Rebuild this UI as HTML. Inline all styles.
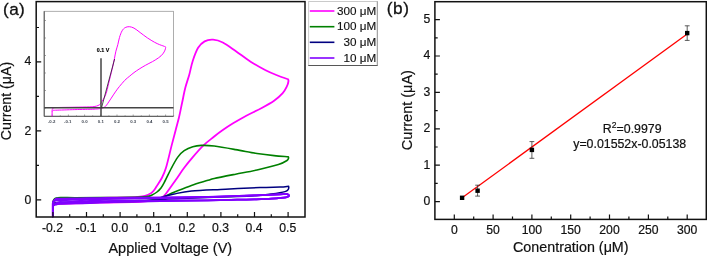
<!DOCTYPE html>
<html lang="en"><head><meta charset="utf-8"><title>Figure</title>
<style>html,body{margin:0;padding:0;background:#fff}body{width:707px;height:257px;overflow:hidden}svg{display:block;will-change:transform}</style></head>
<body>
<svg width="707" height="257" viewBox="0 0 707 257">
<rect width="707" height="257" fill="#fff"/>
<g fill="none" stroke-linejoin="round" stroke-linecap="round">
<path d="M52.8 216.5 L52.8 203.8 L52.8 203.8 C53.0 203.3 53.2 201.4 53.8 200.6 C54.4 199.8 54.6 199.3 56.5 199.0 C58.4 198.7 57.8 198.7 65.0 198.5 C72.2 198.3 89.2 198.1 100.0 197.9 C110.8 197.7 123.7 197.5 130.0 197.3 C136.3 197.1 135.5 197.1 138.0 196.8 C140.5 196.6 142.8 196.4 145.0 195.8 C147.2 195.2 149.5 194.1 151.0 193.2 C152.5 192.3 153.1 191.4 154.0 190.3 C154.9 189.2 155.2 188.6 156.5 186.5 C157.8 184.4 160.2 181.1 161.8 178.0 C163.4 174.9 164.4 173.1 166.0 167.8 C167.6 162.5 169.8 152.7 171.4 146.4 C173.0 140.1 174.4 134.8 175.7 130.0 C176.9 125.2 177.8 122.3 178.9 117.8 C180.0 113.3 181.0 107.8 182.1 102.8 C183.2 97.8 184.1 92.4 185.3 87.8 C186.5 83.2 187.9 79.5 189.2 75.0 C190.4 70.5 191.3 65.2 192.8 60.7 C194.3 56.2 196.1 51.0 198.1 47.8 C200.1 44.6 202.1 42.8 204.6 41.4 C207.1 40.0 210.1 39.5 213.1 39.7 C216.1 39.9 219.1 40.6 222.8 42.5 C226.6 44.4 231.0 47.8 235.6 51.0 C240.2 54.2 245.6 58.5 250.6 61.7 C255.6 64.9 261.3 68.1 265.6 70.3 C269.9 72.5 272.5 73.5 276.3 75.0 C280.1 76.5 286.2 78.6 288.2 79.3 L288.5 81.0 C288.3 81.8 288.2 83.7 287.2 85.7 C286.2 87.7 284.9 90.7 282.7 93.2 C280.5 95.7 277.7 98.2 274.1 100.7 C270.5 103.2 265.9 105.7 261.3 108.2 C256.7 110.7 250.9 113.2 246.3 115.7 C241.7 118.2 237.4 120.7 233.5 123.1 C229.6 125.5 226.0 127.8 222.8 130.0 C219.6 132.2 217.4 133.9 214.2 136.5 C211.0 139.1 207.1 141.9 203.5 145.3 C199.9 148.7 196.0 153.3 192.8 157.1 C189.6 160.8 187.0 164.0 184.2 167.8 C181.3 171.6 178.8 175.6 175.7 180.0 C172.6 184.4 168.1 191.0 165.7 194.0 C163.2 197.0 162.8 196.9 161.0 198.0 C159.2 199.1 158.5 199.7 155.0 200.3 C151.5 200.9 149.2 201.4 140.0 201.8 C130.8 202.2 113.3 202.3 100.0 202.7 C86.7 203.0 67.5 203.6 60.0 203.9 C52.5 204.2 56.1 204.0 55.0 204.3 C53.9 204.7 53.5 205.7 53.2 206.0" stroke="#ff00ff" stroke-width="1.8"/>
<path d="M52.8 216.5 L52.8 203.5 L52.8 203.5 C52.9 202.9 53.1 200.8 53.7 199.9 C54.3 199.0 55.0 198.5 56.2 198.1 C57.4 197.7 57.9 197.7 61.0 197.6 C64.1 197.5 68.5 197.7 75.0 197.7 C81.5 197.7 90.8 197.7 100.0 197.6 C109.2 197.5 122.2 197.5 130.0 197.3 C137.8 197.1 143.1 196.9 146.8 196.5 C150.5 196.1 150.3 195.8 152.0 195.0 C153.7 194.2 155.5 193.2 157.0 192.0 C158.5 190.8 159.7 189.8 161.0 188.0 C162.3 186.2 163.3 184.2 165.0 181.0 C166.7 177.8 169.1 172.5 171.2 168.5 C173.3 164.5 175.6 160.1 177.8 157.1 C180.0 154.1 181.7 152.4 184.2 150.7 C186.7 149.0 189.9 147.6 192.8 146.7 C195.7 145.8 197.8 145.5 201.4 145.4 C205.0 145.3 208.5 145.3 214.2 146.0 C219.9 146.7 228.5 148.3 235.6 149.6 C242.7 150.8 250.6 152.5 257.0 153.5 C263.4 154.5 268.9 155.1 274.1 155.6 C279.3 156.1 285.9 156.5 288.3 156.7 L288.6 158.0 C288.3 158.4 288.7 159.4 287.0 160.5 C285.3 161.6 283.4 163.0 278.4 164.6 C273.4 166.2 264.1 168.4 257.0 170.0 C249.9 171.6 242.7 172.8 235.6 174.2 C228.5 175.6 218.8 177.5 214.2 178.5 C209.6 179.5 211.8 179.2 208.0 180.3 C204.2 181.5 197.1 183.4 191.4 185.4 C185.7 187.4 179.2 190.2 174.0 192.3 C168.8 194.4 164.5 196.7 160.5 198.0 C156.5 199.3 153.4 199.8 150.0 200.3 C146.6 200.8 148.3 200.9 140.0 201.2 C131.7 201.5 113.3 201.8 100.0 202.2 C86.7 202.6 67.5 203.2 60.0 203.5 C52.5 203.8 56.1 203.7 55.0 204.0 C53.9 204.3 53.6 205.2 53.3 205.5" stroke="#008000" stroke-width="1.6"/>
<path d="M52.8 216.5 L52.8 203.5 L52.8 203.5 C53.0 203.1 53.3 201.5 54.0 200.8 C54.7 200.1 55.2 199.7 57.0 199.4 C58.8 199.1 57.8 199.2 65.0 199.0 C72.2 198.8 87.5 198.6 100.0 198.5 C112.5 198.4 130.5 198.3 140.0 198.2 C149.5 198.1 152.8 198.3 157.0 198.0 C161.2 197.7 162.2 197.0 165.0 196.3 C167.8 195.6 169.6 194.9 174.0 194.0 C178.4 193.1 182.8 191.8 191.4 191.0 C200.0 190.2 214.2 189.8 225.6 189.2 C237.0 188.6 250.9 188.0 260.0 187.6 C269.1 187.2 275.2 187.2 280.0 187.0 C284.8 186.8 287.2 186.3 288.6 186.2 L288.8 187.6 C288.7 187.9 288.8 188.7 288.2 189.4 C287.6 190.1 287.8 190.8 285.0 191.6 C282.2 192.4 276.5 193.3 271.4 194.0 C266.3 194.7 259.9 195.3 254.2 195.7 C248.5 196.1 242.7 196.3 237.0 196.5 C231.3 196.7 229.5 196.7 220.0 197.0 C210.5 197.3 193.3 197.9 180.0 198.5 C166.7 199.1 153.3 200.0 140.0 200.5 C126.7 201.0 113.3 201.2 100.0 201.5 C86.7 201.8 67.5 202.2 60.0 202.5 C52.5 202.8 56.1 202.7 55.0 203.0 C53.9 203.3 53.6 204.2 53.3 204.5" stroke="#000080" stroke-width="1.5"/>
<path d="M52.8 216.5 L52.8 203.2 L52.9 203.2 C53.1 202.7 53.3 201.2 53.9 200.4 C54.5 199.6 55.5 198.8 56.5 198.5 C57.5 198.2 56.1 198.6 60.0 198.5 C63.9 198.5 73.3 198.4 80.0 198.3 C86.7 198.2 94.3 198.1 100.0 198.0 C105.7 197.9 107.3 197.9 114.0 197.8 C120.7 197.7 129.0 197.6 140.0 197.5 C151.0 197.4 168.7 197.3 180.0 197.2 C191.3 197.1 201.3 197.0 208.0 196.9 C214.7 196.8 212.3 196.8 220.0 196.5 C227.7 196.3 244.0 195.8 254.0 195.4 C264.0 195.0 274.5 194.5 280.0 194.3 C285.5 194.1 286.0 194.1 287.2 194.0 L288.7 195.0 C288.7 195.2 289.3 195.6 288.9 196.0 C288.4 196.4 288.9 196.9 286.0 197.3 C283.1 197.8 276.7 198.3 271.4 198.7 C266.1 199.0 259.9 199.2 254.2 199.4 C248.5 199.6 242.7 199.6 237.0 199.7 C231.3 199.8 224.8 200.0 220.0 200.2 C215.2 200.3 214.7 200.4 208.0 200.5 C201.3 200.6 191.3 200.8 180.0 201.0 C168.7 201.1 151.0 201.4 140.0 201.6 C129.0 201.8 120.7 201.9 114.0 202.1 C107.3 202.3 105.7 202.4 100.0 202.6 C94.3 202.8 86.7 203.0 80.0 203.3 C73.3 203.5 64.0 203.7 60.0 204.0 C56.0 204.2 57.1 204.5 56.0 204.7 C54.9 204.9 54.0 204.9 53.6 205.0" stroke="#8000ff" stroke-width="1.7"/>
<path d="M52.8 216.5 L52.8 203.2 L52.9 203.2 C53.1 202.8 53.3 201.5 53.9 200.9 C54.5 200.3 55.5 199.7 56.5 199.4 C57.5 199.2 56.1 199.5 60.0 199.4 C63.9 199.3 73.3 199.2 80.0 199.1 C86.7 199.0 94.3 198.8 100.0 198.7 C105.7 198.6 107.3 198.5 114.0 198.4 C120.7 198.3 129.0 198.2 140.0 198.0 C151.0 197.8 168.7 197.7 180.0 197.5 C191.3 197.3 201.3 197.2 208.0 197.0 C214.7 196.8 212.3 196.9 220.0 196.6 C227.7 196.3 244.0 195.8 254.0 195.4 C264.0 195.0 274.5 194.5 280.0 194.3 C285.5 194.1 286.0 194.1 287.2 194.0 L288.7 195.0 C288.7 195.2 289.3 195.6 288.9 196.0 C288.4 196.4 288.9 196.9 286.0 197.3 C283.1 197.8 276.7 198.3 271.4 198.7 C266.1 199.0 259.9 199.2 254.2 199.4 C248.5 199.6 242.7 199.6 237.0 199.7 C231.3 199.8 224.8 200.0 220.0 200.1 C215.2 200.2 214.7 200.3 208.0 200.4 C201.3 200.5 191.3 200.6 180.0 200.7 C168.7 200.8 151.0 201.0 140.0 201.1 C129.0 201.2 120.7 201.4 114.0 201.5 C107.3 201.6 105.7 201.7 100.0 201.9 C94.3 202.1 86.7 202.3 80.0 202.5 C73.3 202.7 64.0 202.9 60.0 203.1 C56.0 203.3 57.1 203.5 56.0 203.8 C54.9 204.1 54.0 204.8 53.6 205.0" stroke="#8000ff" stroke-width="1.7"/>
<path d="M52.8 216.5 L52.8 203.2 L52.9 203.2 C53.1 202.9 53.3 201.9 53.9 201.4 C54.5 200.9 55.5 200.5 56.5 200.3 C57.5 200.1 56.1 200.3 60.0 200.3 C63.9 200.2 73.3 200.0 80.0 199.9 C86.7 199.7 94.3 199.5 100.0 199.4 C105.7 199.2 107.3 199.2 114.0 199.0 C120.7 198.8 129.0 198.7 140.0 198.5 C151.0 198.3 168.7 198.0 180.0 197.8 C191.3 197.5 201.3 197.3 208.0 197.1 C214.7 196.9 212.3 196.9 220.0 196.7 C227.7 196.4 244.0 195.8 254.0 195.4 C264.0 195.0 274.5 194.5 280.0 194.3 C285.5 194.1 286.0 194.1 287.2 194.0 L288.7 195.0 C288.7 195.2 289.3 195.6 288.9 196.0 C288.4 196.4 288.9 196.9 286.0 197.3 C283.1 197.8 276.7 198.3 271.4 198.7 C266.1 199.0 259.9 199.2 254.2 199.4 C248.5 199.6 242.7 199.6 237.0 199.7 C231.3 199.8 224.8 200.0 220.0 200.0 C215.2 200.1 214.7 200.2 208.0 200.3 C201.3 200.4 191.3 200.4 180.0 200.4 C168.7 200.5 151.0 200.6 140.0 200.6 C129.0 200.7 120.7 200.8 114.0 200.9 C107.3 201.0 105.7 201.1 100.0 201.2 C94.3 201.4 86.7 201.6 80.0 201.7 C73.3 201.9 64.0 202.0 60.0 202.2 C56.0 202.4 57.1 202.5 56.0 202.9 C54.9 203.4 54.0 204.7 53.6 205.0" stroke="#8000ff" stroke-width="1.7"/>
</g>
<g stroke="#111" stroke-width="1.5" fill="none" stroke-linecap="butt">
<rect x="36.2" y="1.6" width="268.8" height="215.4"/>
<path stroke-width="1.2" d="M52.9 217.1 v-5.0 M69.7 217.1 v-2.8 M86.5 217.1 v-5.0 M103.3 217.1 v-2.8 M120.1 217.1 v-5.0 M136.9 217.1 v-2.8 M153.7 217.1 v-5.0 M170.5 217.1 v-2.8 M187.3 217.1 v-5.0 M204.1 217.1 v-2.8 M220.9 217.1 v-5.0 M237.7 217.1 v-2.8 M254.5 217.1 v-5.0 M271.3 217.1 v-2.8 M288.1 217.1 v-5.0 M36.2 199.8 h5.0 M36.2 165.3 h2.8 M36.2 130.9 h5.0 M36.2 96.4 h2.8 M36.2 61.9 h5.0 M36.2 27.5 h2.8"/>
</g>
<g font-family="Liberation Sans, Arial, sans-serif" font-size="12.2" fill="#111" stroke="#111" stroke-width="0.2">
<text x="52.5" y="231.8" text-anchor="middle">-0.2</text>
<text x="86.1" y="231.8" text-anchor="middle">-0.1</text>
<text x="119.7" y="231.8" text-anchor="middle">0.0</text>
<text x="153.3" y="231.8" text-anchor="middle">0.1</text>
<text x="186.9" y="231.8" text-anchor="middle">0.2</text>
<text x="220.5" y="231.8" text-anchor="middle">0.3</text>
<text x="254.1" y="231.8" text-anchor="middle">0.4</text>
<text x="287.7" y="231.8" text-anchor="middle">0.5</text>
<text x="31.4" y="203.9" text-anchor="end">0</text>
<text x="31.4" y="135.0" text-anchor="end">2</text>
<text x="31.4" y="65.2" text-anchor="end">4</text>
</g>
<text font-family="Liberation Sans, Arial, sans-serif" font-size="14.45" fill="#111" stroke="#111" stroke-width="0.2" x="170.3" y="252.5" text-anchor="middle">Applied Voltage (V)</text>
<text font-family="Liberation Sans, Arial, sans-serif" font-size="14.2" fill="#111" stroke="#111" stroke-width="0.2" transform="translate(11.1 101.0) rotate(-90)" text-anchor="middle">Current (μA)</text>
<text font-family="Liberation Sans, Arial, sans-serif" font-size="17.2" fill="#111" stroke="#111" stroke-width="0.3" letter-spacing="0.35" x="3.1" y="15.0">(a)</text>
<g>
<rect x="44.2" y="11.3" width="129.3" height="105" fill="none" stroke="#9a9a9a" stroke-width="0.8"/>
<path d="M44.2 11.3 V116.3 H173.5" fill="none" stroke="#444" stroke-width="0.9"/>
<path d="M52.2 116.3 v-1.8 M60.3 116.3 v-1.0 M68.4 116.3 v-1.8 M76.5 116.3 v-1.0 M84.6 116.3 v-1.8 M92.7 116.3 v-1.0 M100.8 116.3 v-1.8 M108.9 116.3 v-1.0 M117.0 116.3 v-1.8 M125.1 116.3 v-1.0 M133.2 116.3 v-1.8 M141.3 116.3 v-1.0 M149.4 116.3 v-1.8 M157.5 116.3 v-1.0 M165.6 116.3 v-1.8 M173.7 116.3 v-1.0 M44.2 108.0 h1.8 M44.2 90.5 h1.8 M44.2 73.0 h1.8 M44.2 55.5 h1.8 M44.2 38.0 h1.8 M44.2 20.5 h1.8" stroke="#666" stroke-width="0.6" fill="none"/>
<path d="M52.1 116.3 L52.1 110.2 L52.1 110.2 C52.2 109.9 52.3 109.0 52.6 108.6 C52.9 108.2 53.0 107.9 53.9 107.7 C54.8 107.6 54.5 107.6 58.0 107.5 C61.5 107.4 69.6 107.3 74.8 107.2 C80.0 107.1 86.2 107.0 89.3 106.9 C92.3 106.8 91.9 106.8 93.1 106.6 C94.3 106.5 95.5 106.4 96.5 106.1 C97.5 105.8 98.7 105.3 99.4 104.8 C100.1 104.3 100.4 103.9 100.8 103.3 C101.3 102.8 101.4 102.4 102.0 101.4 C102.7 100.3 103.8 98.6 104.6 97.1 C105.3 95.5 105.8 94.6 106.6 91.9 C107.4 89.2 108.4 84.2 109.2 81.0 C110.0 77.8 110.7 75.1 111.3 72.6 C111.9 70.2 112.3 68.7 112.8 66.4 C113.3 64.1 113.8 61.4 114.4 58.8 C114.9 56.3 115.3 53.5 115.9 51.2 C116.5 48.8 117.2 47.0 117.8 44.7 C118.4 42.4 118.8 39.7 119.5 37.4 C120.2 35.1 121.1 32.5 122.1 30.8 C123.0 29.2 124.0 28.3 125.2 27.6 C126.4 26.9 127.8 26.6 129.3 26.7 C130.8 26.8 132.2 27.2 134.0 28.1 C135.8 29.1 137.9 30.8 140.1 32.5 C142.4 34.1 144.9 36.3 147.4 37.9 C149.8 39.5 152.5 41.1 154.6 42.3 C156.6 43.4 157.9 43.9 159.7 44.7 C161.5 45.4 164.5 46.3 165.5 46.9 C166.4 47.4 165.7 47.2 165.6 47.7 C165.5 48.3 165.4 49.1 165.0 50.1 C164.5 51.1 163.9 52.7 162.8 53.9 C161.8 55.2 160.4 56.5 158.7 57.7 C157.0 59.0 154.7 60.3 152.5 61.6 C150.3 62.8 147.5 64.1 145.3 65.4 C143.1 66.6 141.0 67.9 139.1 69.1 C137.2 70.3 135.5 71.5 134.0 72.6 C132.4 73.8 131.4 74.7 129.8 76.0 C128.3 77.2 126.4 78.7 124.7 80.4 C123.0 82.2 121.1 84.5 119.5 86.4 C118.0 88.3 116.7 89.9 115.4 91.9 C114.0 93.8 112.8 95.9 111.3 98.1 C109.8 100.3 107.6 103.7 106.5 105.2 C105.3 106.7 105.1 106.7 104.2 107.2 C103.3 107.8 103.0 108.1 101.3 108.4 C99.6 108.7 98.5 109.0 94.1 109.2 C89.7 109.4 81.2 109.4 74.8 109.6 C68.4 109.8 59.2 110.1 55.6 110.2 C51.9 110.4 53.7 110.3 53.2 110.4 C52.6 110.6 52.4 111.2 52.3 111.3" fill="none" stroke="#ff00ff" stroke-width="1" stroke-linejoin="round"/>
<path d="M44.2 107.8 H173.5" stroke="#444" stroke-width="1.4" fill="none"/>
<path d="M101 58.3 V116.3" stroke="#444" stroke-width="1.5" fill="none"/>
<path d="M114.6 59 L101.6 107.5" stroke="#222" stroke-width="0.8" fill="none"/>
<text font-family="Liberation Sans, Arial, sans-serif" font-weight="bold" font-size="5.3" fill="#000" stroke="#000" stroke-width="0.15" x="103.0" y="51.8" text-anchor="middle">0.1 V</text>
<g font-family="Liberation Sans, sans-serif" font-weight="bold" font-size="4.3" fill="#3d4450" text-anchor="middle">
<text x="51.6" y="122.6">-0.2</text>
<text x="67.8" y="122.6">-0.1</text>
<text x="84.6" y="122.6">0.0</text>
<text x="100.8" y="122.6">0.1</text>
<text x="117.0" y="122.6">0.2</text>
<text x="133.2" y="122.6">0.3</text>
<text x="149.4" y="122.6">0.4</text>
<text x="165.6" y="122.6">0.5</text>
</g>
</g>
<rect x="308.7" y="1.4" width="68.6" height="64.1" fill="#fff" stroke="#bdbdbd" stroke-width="0.8"/>
<path d="M308.3 65.5 H377.7" stroke="#4a4a4a" stroke-width="0.9" fill="none"/>
<path d="M377.3 1.4 V65.5" stroke="#8c8c8c" stroke-width="0.8" fill="none"/>
<path d="M309.8 11.0 H334.4" stroke="#ff00ff" stroke-width="1.6" fill="none"/>
<text font-family="Liberation Sans, Arial, sans-serif" font-size="11.7" fill="#111" stroke="#111" stroke-width="0.15" x="376.2" y="14.5" text-anchor="end">300 μM</text>
<path d="M309.8 26.7 H334.4" stroke="#008000" stroke-width="1.6" fill="none"/>
<text font-family="Liberation Sans, Arial, sans-serif" font-size="11.7" fill="#111" stroke="#111" stroke-width="0.15" x="376.2" y="30.2" text-anchor="end">100 μM</text>
<path d="M309.8 42.3 H334.4" stroke="#000080" stroke-width="1.6" fill="none"/>
<text font-family="Liberation Sans, Arial, sans-serif" font-size="11.7" fill="#111" stroke="#111" stroke-width="0.15" x="376.2" y="45.8" text-anchor="end">30 μM</text>
<path d="M309.8 58.0 H334.4" stroke="#8000ff" stroke-width="1.6" fill="none"/>
<text font-family="Liberation Sans, Arial, sans-serif" font-size="11.7" fill="#111" stroke="#111" stroke-width="0.15" x="376.2" y="61.5" text-anchor="end">10 μM</text>
<path d="M462.1 197.8 L687.2 34.0" stroke="#ff0000" stroke-width="1.3" fill="none"/>
<path d="M477.6 185.2 V196.1 M475.2 185.2 h4.8 M475.2 196.1 h4.8 M531.9 141.6 V158.3 M529.5 141.6 h4.8 M529.5 158.3 h4.8 M687.2 25.8 V40.4 M684.8 25.8 h4.8 M684.8 40.4 h4.8" stroke="#333" stroke-width="0.8" fill="none"/>
<rect x="459.9" y="195.6" width="4.4" height="4.4" fill="#000"/>
<rect x="475.4" y="188.5" width="4.4" height="4.4" fill="#000"/>
<rect x="529.7" y="147.7" width="4.4" height="4.4" fill="#000"/>
<rect x="685.0" y="30.9" width="4.4" height="4.4" fill="#000"/>
<g stroke="#111" stroke-width="1.5" fill="none">
<rect x="434.9" y="1.7" width="271.4" height="217.7"/>
<path stroke-width="1.2" d="M454.3 219.4 v-5.0 M473.7 219.4 v-2.8 M493.1 219.4 v-5.0 M512.5 219.4 v-2.8 M531.9 219.4 v-5.0 M551.3 219.4 v-2.8 M570.7 219.4 v-5.0 M590.1 219.4 v-2.8 M609.5 219.4 v-5.0 M628.9 219.4 v-2.8 M648.4 219.4 v-5.0 M667.8 219.4 v-2.8 M687.2 219.4 v-5.0 M434.9 201.6 h5.0 M434.9 183.4 h2.8 M434.9 165.2 h5.0 M434.9 147.0 h2.8 M434.9 128.8 h5.0 M434.9 110.6 h2.8 M434.9 92.4 h5.0 M434.9 74.2 h2.8 M434.9 56.0 h5.0 M434.9 37.8 h2.8 M434.9 19.7 h5.0"/>
</g>
<g font-family="Liberation Sans, Arial, sans-serif" font-size="12.2" fill="#111" stroke="#111" stroke-width="0.2">
<text x="454.3" y="233.9" text-anchor="middle">0</text>
<text x="493.1" y="233.9" text-anchor="middle">50</text>
<text x="531.9" y="233.9" text-anchor="middle">100</text>
<text x="570.7" y="233.9" text-anchor="middle">150</text>
<text x="609.5" y="233.9" text-anchor="middle">200</text>
<text x="648.4" y="233.9" text-anchor="middle">250</text>
<text x="687.2" y="233.9" text-anchor="middle">300</text>
<text x="430.3" y="204.9" text-anchor="end">0</text>
<text x="430.3" y="168.5" text-anchor="end">1</text>
<text x="430.3" y="132.1" text-anchor="end">2</text>
<text x="430.3" y="95.7" text-anchor="end">3</text>
<text x="430.3" y="59.3" text-anchor="end">4</text>
<text x="430.3" y="23.0" text-anchor="end">5</text>
</g>
<text font-family="Liberation Sans, Arial, sans-serif" font-size="14.3" fill="#111" stroke="#111" stroke-width="0.2" x="570.8" y="252.4" text-anchor="middle">Conentration (μM)</text>
<text font-family="Liberation Sans, Arial, sans-serif" font-size="14.5" fill="#111" stroke="#111" stroke-width="0.2" transform="translate(411.8 110.1) rotate(-90)" text-anchor="middle">Current (μA)</text>
<text font-family="Liberation Sans, Arial, sans-serif" font-size="17.2" fill="#111" stroke="#111" stroke-width="0.3" letter-spacing="0.6" x="386.7" y="14.2">(b)</text>
<text font-family="Liberation Sans, Arial, sans-serif" font-size="12.35" fill="#111" stroke="#111" stroke-width="0.2" x="632.2" y="132.6" text-anchor="middle">R<tspan font-size="8.6" dy="-4.6">2</tspan><tspan dy="4.6">=0.9979</tspan></text>
<text font-family="Liberation Sans, Arial, sans-serif" font-size="12.35" fill="#111" stroke="#111" stroke-width="0.2" x="629.7" y="148.0" text-anchor="middle">y=0.01552x-0.05138</text>
</svg>
</body></html>
